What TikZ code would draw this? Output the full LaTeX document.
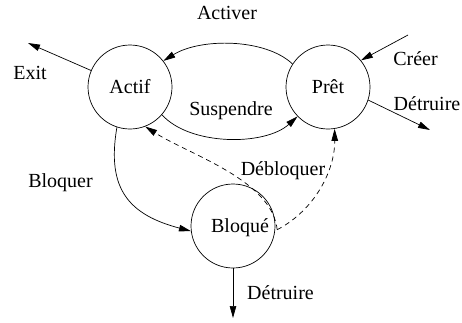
\documentclass[tikz,border=0pt]{standalone}
\usepackage{fontspec}
\setmainfont{Liberation Serif}
\usetikzlibrary{arrows.meta}

\tikzset{
  state/.style={circle, draw, line width=0.7pt, minimum size=84pt, inner sep=0pt,
                font=\fontsize{20}{24}\selectfont},
  lbl/.style={anchor=base, inner sep=0pt, font=\fontsize{20}{24}\selectfont},
  trans/.style={line width=0.7pt, -{Triangle[length=12pt,width=6.5pt]}},
  weak/.style={trans, dash pattern=on 5pt off 4pt},
}

\begin{document}
\begin{tikzpicture}[x=1pt, y=-1pt]
  \useasboundingbox (0,0) rectangle (462,322);

  % process states
  \node[state] (actif)  at (130,87)  {Actif};
  \node[state] (pret)   at (328,87)  {Prêt};
  \node[state] (bloque) at (233,226) {};
  \node[lbl]   (bloquetxt) at (240,232) {Bloqué};

  % free ends of the external transitions
  \coordinate (exitend)   at (28,43);
  \coordinate (creerbeg)  at (408,35);
  \coordinate (detrend)   at (430,130);
  \coordinate (detrbend)  at (233,318);
  \coordinate (unblk)     at ([xshift=2pt]bloque.-5);

  % transitions between states
  \draw[trans] (pret.147) .. controls (265,38) and (200,38) .. (actif.38);
  \draw[trans] (actif.-41) .. controls (190,146) and (265,146) .. (pret.-136);
  \draw[trans] (actif.-108) .. controls (106,190) and (130,215) .. (bloque.187);
  \draw[weak]  (unblk) .. controls (272,180) and (190,155) .. (actif.-69);
  \draw[weak]  (unblk) .. controls (315,210) and (335,170) .. (pret.-81);

  % creation, termination and exit
  \draw[trans] (actif.157) -- (exitend);
  \draw[trans] (creerbeg) -- (pret.39);
  \draw[trans] (pret.-18) -- (detrend);
  \draw[trans] (bloque.south) -- (detrbend);

  % transition labels
  \node[lbl] (lactiver)  at (227,19)    {Activer};
  \node[lbl] (lexit)     at (30,79)     {Exit};
  \node[lbl] (lcreer)    at (415.5,65.7) {Créer};
  \node[lbl] (ldetr)     at (427,110)   {Détruire};
  \node[lbl] (lsusp)     at (231,115.7) {Suspendre};
  \node[lbl] (lbloquer)  at (60.5,187.5) {Bloquer};
  \node[lbl] (ldebloq)   at (283,175)   {Débloquer};
  \node[lbl] (ldetrb)    at (280.5,299) {Détruire};
\end{tikzpicture}
\end{document}
